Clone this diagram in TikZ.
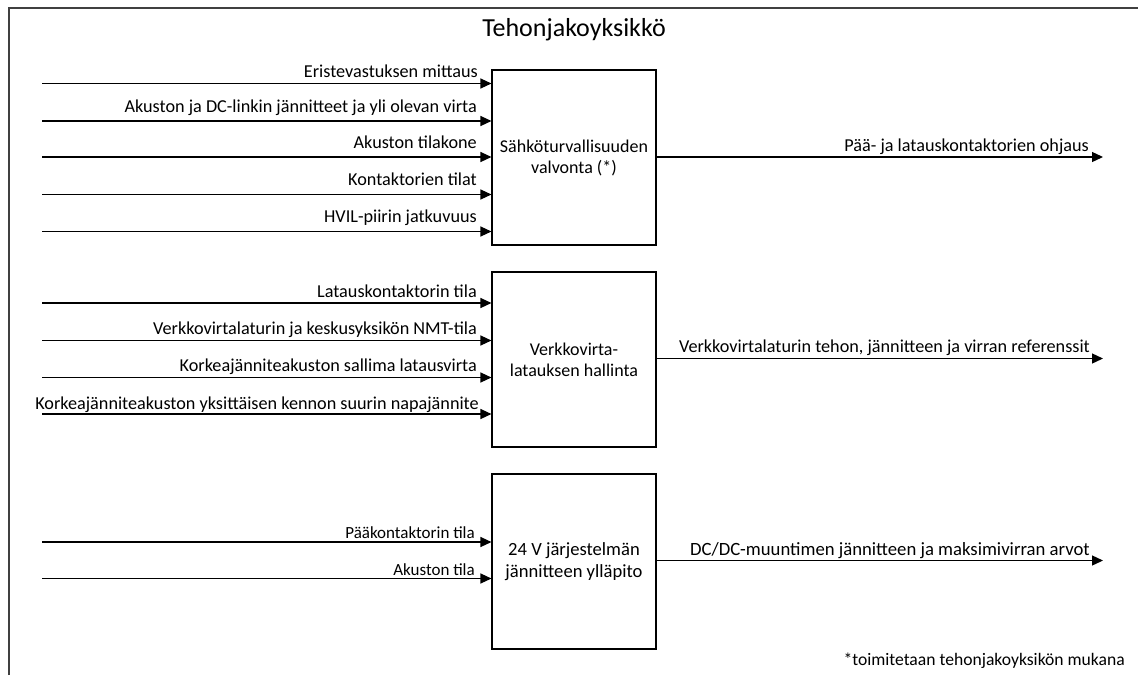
\documentclass[tikz,border=0pt]{standalone}
\usepackage{fontspec}
\setmainfont{Carlito}
\usetikzlibrary{arrows.meta}
\begin{document}
\begin{tikzpicture}[x=1pt,y=-1pt,
  frameline/.style={line width=1.4pt, draw=black!75},
  blk/.style={draw, line width=1.1pt, minimum width=164pt, minimum height=175pt,
    align=center, inner sep=0pt, font=\fontsize{18}{21}\selectfont},
  sig/.style={line width=1.3pt, -{Triangle[length=11pt,width=10pt]}},
  inlbl/.style={anchor=base east, inner sep=0pt, font=\fontsize{18.2}{21}\selectfont},
  smlbl/.style={inlbl, font=\fontsize{17}{20}\selectfont},
  widelbl/.style={inlbl, font=\fontsize{18.7}{22}\selectfont},
  title/.style={font=\fontsize{26}{30}\selectfont},
  note/.style={anchor=base east, inner sep=0pt, font=\fontsize{17.6}{20}\selectfont}]
\useasboundingbox (0,0) rectangle (1138,675);

% outer frame of the unit
\draw[frameline] (9,675) -- (9,8) -- (1138,8);
\node[title] (ttl) at (574,30) {Tehonjakoyksikkö};

% function blocks
\node[blk] (b1) at (574,157.5) {Sähköturvallisuuden\\valvonta (*)};
\node[blk] (b2) at (574,359.5) {Verkkovirta-\\latauksen hallinta};
\node[blk, font=\fontsize{18.6}{21.5}\selectfont] (b3) at (574,561.5) {24 V järjestelmän\\jännitteen ylläpito};

% input signal start points
\coordinate (i11) at (42,83.5);
\coordinate (i12) at (42,121);
\coordinate (i13) at (42,157);
\coordinate (i14) at (42,194.5);
\coordinate (i15) at (42,231.5);
\coordinate (i21) at (42,303);
\coordinate (i22) at (42,340.5);
\coordinate (i23) at (42,377.5);
\coordinate (i24) at (42,414);
\coordinate (i31) at (42,542);
\coordinate (i32) at (42,578.5);

% output signal end points
\coordinate (o1) at (1103,157);
\coordinate (o2) at (1103,358.5);
\coordinate (o3) at (1103,560.5);

% inputs of block 1
\foreach \c in {i11,i12,i13,i14,i15}{\draw[sig] (\c) -- (b1.west |- \c);}
\node[inlbl] (l11) at (478,77) {Eristevastuksen mittaus};
\node[inlbl] (l12) at (477,112) {Akuston ja DC-linkin jännitteet ja yli olevan virta};
\node[inlbl] (l13) at (477,148) {Akuston tilakone};
\node[inlbl] (l14) at (477,185) {Kontaktorien tilat};
\node[inlbl] (l15) at (477,222) {HVIL-piirin jatkuvuus};

% inputs of block 2
\foreach \c in {i21,i22,i23,i24}{\draw[sig] (\c) -- (b2.west |- \c);}
\node[inlbl] (l21) at (477,297) {Latauskontaktorin tila};
\node[inlbl] (l22) at (477,334) {Verkkovirtalaturin ja keskusyksikön NMT-tila};
\node[inlbl] (l23) at (477,371) {Korkeajänniteakuston sallima latausvirta};
\node[inlbl] (l24) at (479,409) {Korkeajänniteakuston yksittäisen kennon suurin napajännite};

% inputs of block 3
\foreach \c in {i31,i32}{\draw[sig] (\c) -- (b3.west |- \c);}
\node[smlbl] (l31) at (475,538) {Pääkontaktorin tila};
\node[smlbl] (l32) at (475,575) {Akuston tila};

% outputs
\draw[sig] (b1.east |- o1) -- (o1);
\draw[sig] (b2.east |- o2) -- (o2);
\draw[sig] (b3.east |- o3) -- (o3);
\node[inlbl] (lo1) at (1089,151) {Pää- ja latauskontaktorien ohjaus};
\node[inlbl] (lo2) at (1090,352.5) {Verkkovirtalaturin tehon, jännitteen ja virran referenssit};
\node[widelbl] (lo3) at (1090,555) {DC/DC-muuntimen jännitteen ja maksimivirran arvot};

% footnote
\node[note] (fn) at (1125,665) {*toimitetaan tehonjakoyksikön mukana};
\end{tikzpicture}
\end{document}
